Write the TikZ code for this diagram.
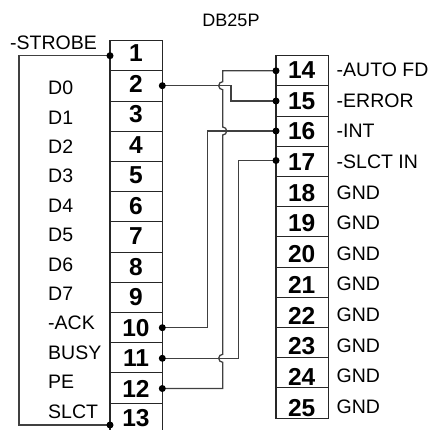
\documentclass[tikz,border=0pt]{standalone}
\usepackage{fontspec}
\setmainfont{Liberation Sans}
\begin{document}
\begin{tikzpicture}[x=1pt,y=1pt,
  rowbox/.style={draw=black!85,line width=1.1pt,minimum width=52.3pt,minimum height=30.2pt,inner sep=0pt,outer sep=0pt},
  pinnum/.style={inner sep=0pt,font=\fontsize{24.5}{24.5}\selectfont\bfseries},
  lab/.style={inner sep=0pt,anchor=west,font=\fontsize{19.5}{19.5}\selectfont},
  wire/.style={draw=black!75,line width=1.3pt},
  dot/.style={circle,fill=black,inner sep=0pt,minimum size=7pt}]
\useasboundingbox (0,0) rectangle (437,-429);
% title
\node[inner sep=0pt,font=\fontsize{18}{18}\selectfont] (title) at (231,-20) {DB25P};
% left connector rows
\foreach \k in {1,...,13}{
  \node[rowbox] (L\k) at (136.15,{-40.7-(\k-0.5)*30.2}) {};
}
\foreach \k in {1,...,12}{
  \node[pinnum] (N\k) at (136,{-53-(\k-1)*30.55}) {\k};
}
\node[pinnum] (N13) at (136,-418.5) {13};
% right connector rows
\foreach \k in {14,...,25}{
  \node[rowbox] (L\k) at (302.15,{-55.7-(\k-13.5)*30.2}) {};
  \node[pinnum] (N\k) at (301.7,{-70-(\k-14)*30.7}) {\k};
}
% left labels
\node[lab] (strobe) at (10,-43) {-STROBE};
\foreach \t [count=\j from 0] in {D0,D1,D2,D3,D4,D5,D6,D7,-ACK,BUSY,PE,SLCT}{
  \node[lab] (lab\j) at (48,{-88-\j*29.4}) {\t};
}
% right labels
\foreach \t [count=\j from 0] in {-AUTO FD,-ERROR,-INT,-SLCT IN,GND,GND,GND,GND,GND,GND,GND,GND}{
  \node[lab] (rlab\j) at (336.5,{-70-\j*30.6}) {\t};
}
% pin contact points
\coordinate (p1) at (110,-55.7);
\coordinate (p13) at (110,-425);
\coordinate (p2) at (162.3,-85.7);
\coordinate (p10) at (162.3,-327.7);
\coordinate (p11) at (162.3,-358.3);
\coordinate (p12) at (162.3,-388.5);
\coordinate (p14) at (276,-70.8);
\coordinate (p15) at (276,-101);
\coordinate (p16) at (276,-131);
\coordinate (p17) at (276,-160.5);
% wires
\draw[wire] (p1) -- (19,-55.7) -- (19,-425) -- (p13);
\draw[wire] (p2) -- (231,-85.7) -- (231,-101) -- (p15);
\draw[wire] (p16) -- (207.5,-131) -- (207.5,-327.7) -- (p10);
\draw[wire] (p17) -- (238.3,-160.5) -- (238.3,-358.3) -- (p11);
\draw[wire] (p14) -- (222.7,-70.8) -- (222.7,-81.7)
  arc[start angle=90,end angle=270,radius=4] -- (222.7,-127)
  arc[start angle=90,end angle=-90,radius=4] -- (222.7,-354.3)
  arc[start angle=90,end angle=270,radius=4] -- (222.7,-388.5) -- (p12);
% dots
\foreach \p in {p1,p13,p2,p10,p11,p12,p14,p15,p16,p17}{
  \node[dot] at (\p) {};
}
\end{tikzpicture}
\end{document}
